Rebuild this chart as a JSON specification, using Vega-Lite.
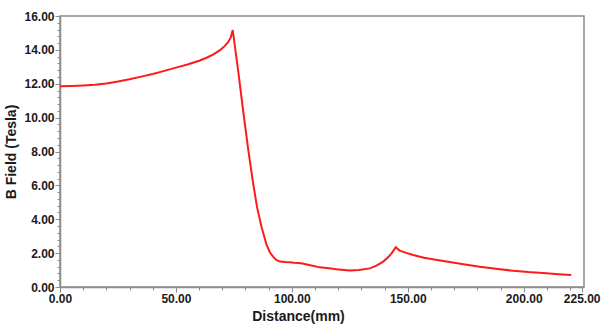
{
  "$schema": "https://vega.github.io/schema/vega-lite/v6.json",
  "width": 524,
  "height": 271,
  "autosize": {"type": "none"},
  "padding": {"left": 60, "top": 16, "right": 19, "bottom": 40},
  "background": "white",
  "config": {
    "view": {"stroke": "#8c8c8c", "strokeWidth": 1.5},
    "axis": {
      "labelFont": "Liberation Sans",
      "labelFontWeight": "bold",
      "labelFontSize": 12,
      "labelColor": "#1a1a1a",
      "titleFont": "Liberation Sans",
      "titleFontWeight": "bold",
      "titleFontSize": 14,
      "titleColor": "#1a1a1a",
      "domainColor": "#8c8c8c",
      "domainWidth": 1.5,
      "tickColor": "#8c8c8c",
      "grid": false,
      "labelOverlap": false,
      "labelFlush": false
    }
  },
  "data": {
    "values": [
      {"distance": 0, "b": 11.85},
      {"distance": 5, "b": 11.87},
      {"distance": 10, "b": 11.9},
      {"distance": 15, "b": 11.94},
      {"distance": 20, "b": 12.02},
      {"distance": 25, "b": 12.13},
      {"distance": 30, "b": 12.27},
      {"distance": 35, "b": 12.42},
      {"distance": 40, "b": 12.58},
      {"distance": 45, "b": 12.76},
      {"distance": 50, "b": 12.95},
      {"distance": 55, "b": 13.14},
      {"distance": 60, "b": 13.36},
      {"distance": 63, "b": 13.52},
      {"distance": 66, "b": 13.72},
      {"distance": 69, "b": 13.98},
      {"distance": 71, "b": 14.22},
      {"distance": 72.5, "b": 14.45},
      {"distance": 73.6, "b": 14.72},
      {"distance": 74.5, "b": 15.17},
      {"distance": 77, "b": 12.6},
      {"distance": 79, "b": 10.4},
      {"distance": 81.2, "b": 8.1},
      {"distance": 83.3, "b": 6.12},
      {"distance": 85, "b": 4.7},
      {"distance": 86.9, "b": 3.56},
      {"distance": 89.1, "b": 2.48},
      {"distance": 90.5, "b": 2.05},
      {"distance": 91.9, "b": 1.79},
      {"distance": 93.3, "b": 1.6},
      {"distance": 94.8, "b": 1.5},
      {"distance": 97, "b": 1.47},
      {"distance": 99, "b": 1.46},
      {"distance": 101, "b": 1.43},
      {"distance": 104, "b": 1.4},
      {"distance": 108, "b": 1.28},
      {"distance": 112, "b": 1.16},
      {"distance": 116, "b": 1.1},
      {"distance": 120, "b": 1.04},
      {"distance": 125, "b": 0.97},
      {"distance": 129, "b": 1.01},
      {"distance": 133.6, "b": 1.1},
      {"distance": 136.5, "b": 1.26},
      {"distance": 139.4, "b": 1.5},
      {"distance": 141.5, "b": 1.75},
      {"distance": 143, "b": 1.99},
      {"distance": 144.8, "b": 2.35},
      {"distance": 146.5, "b": 2.15},
      {"distance": 149, "b": 2.03},
      {"distance": 152.3, "b": 1.89},
      {"distance": 157, "b": 1.73},
      {"distance": 162, "b": 1.61},
      {"distance": 166.7, "b": 1.5},
      {"distance": 174, "b": 1.34},
      {"distance": 181, "b": 1.2},
      {"distance": 188, "b": 1.08},
      {"distance": 195.4, "b": 0.96},
      {"distance": 202, "b": 0.88},
      {"distance": 209.8, "b": 0.81},
      {"distance": 215, "b": 0.76},
      {"distance": 220.5, "b": 0.71}
    ]
  },
  "mark": {"type": "line", "color": "#ff1a1a", "strokeWidth": 2, "clip": true},
  "encoding": {
    "x": {
      "field": "distance",
      "type": "quantitative",
      "scale": {"domain": [0, 226], "nice": false},
      "axis": {
        "title": "Distance(mm)",
        "titlePadding": 5,
        "titleX": 238,
        "values": [0, 10, 20, 30, 40, 50, 60, 70, 80, 90, 100, 110, 120, 130, 140, 150, 160, 170, 180, 190, 200, 210, 220, 225],
        "labelExpr": "(datum.value % 50 === 0 || datum.value === 225) ? format(datum.value, '.2f') : ''",
        "tickSize": {"condition": {"test": "datum.value % 50 === 0 || datum.value === 225", "value": 5}, "value": 3},
        "labelPadding": 1
      }
    },
    "y": {
      "field": "b",
      "type": "quantitative",
      "scale": {"domain": [0, 16], "nice": false},
      "axis": {
        "title": "B Field (Tesla)",
        "titlePadding": 5,
        "values": [0, 0.4, 0.8, 1.2, 1.6, 2, 2.4, 2.8, 3.2, 3.6, 4, 4.4, 4.8, 5.2, 5.6, 6, 6.4, 6.8, 7.2, 7.6, 8, 8.4, 8.8, 9.2, 9.6, 10, 10.4, 10.8, 11.2, 11.6, 12, 12.4, 12.8, 13.2, 13.6, 14, 14.4, 14.8, 15.2, 15.6, 16],
        "labelExpr": "abs(datum.value / 2 - round(datum.value / 2)) < 0.001 ? format(datum.value, '.2f') : ''",
        "tickSize": {"condition": {"test": "abs(datum.value / 2 - round(datum.value / 2)) < 0.001", "value": 5}, "value": 3},
        "labelPadding": 1
      }
    }
  }
}
